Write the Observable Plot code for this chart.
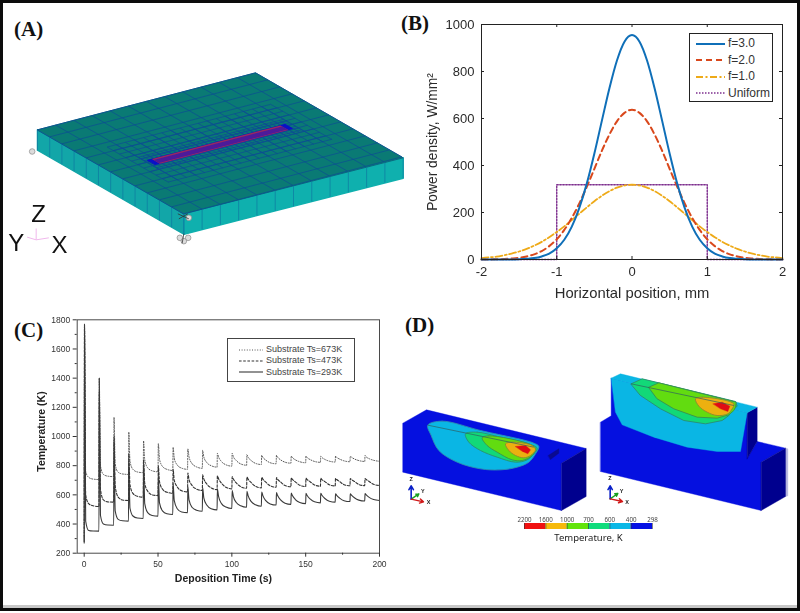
<!DOCTYPE html>
<html>
<head>
<meta charset="utf-8">
<script src="https://cdn.jsdelivr.net/npm/d3@7"></script>
<script src="https://cdn.jsdelivr.net/npm/@observablehq/plot@0.6"></script>
<style>
html,body{margin:0;padding:0;background:#fff;}
#page{position:relative;width:800px;height:613px;overflow:hidden;background:#fff;font-family:"Liberation Sans",Arial,sans-serif;}
#page svg{position:absolute;background:transparent;}
#edge{position:absolute;left:0;top:0;width:794px;height:605px;border:3px solid #0c0c0c;border-bottom-width:3px;box-shadow:inset 0 -3px 0 #c8c8c8;box-sizing:content-box;pointer-events:none;}
.tag{position:absolute;font-family:"Liberation Serif",serif;font-weight:bold;font-size:21px;line-height:24px;color:#111;white-space:nowrap;}
.lg{position:absolute;background:#fff;box-sizing:border-box;}
.row{position:absolute;white-space:nowrap;}
.row svg{position:static !important;vertical-align:middle;}
</style>
</head>
<body>
<div id="page"><div id="edge"></div></div>
<script>
// ---------- Panel B: power density profiles ----------
const positionB = [-2,-1.9,-1.8,-1.7,-1.6,-1.5,-1.4,-1.3,-1.2,-1.1,-1,-0.9,-0.8,-0.7,-0.6,-0.5,-0.4,-0.3,-0.2,-0.1,0,0.1,0.2,0.3,0.4,0.5,0.6,0.7,0.8,0.9,1,1.1,1.2,1.3,1.4,1.5,1.6,1.7,1.8,1.9,2];
const powerF3 = [0,0,0,0,0,1,3,6,13,25,48,84,140,220,324,451,591,729,847,927,955,927,847,729,591,451,324,220,140,84,48,25,13,6,3,1,0,0,0,0,0];
const powerF2 = [0,0,1,2,4,7,13,22,36,57,86,126,177,239,310,386,463,532,588,624,637,624,588,532,463,386,310,239,177,126,86,57,36,22,13,7,4,2,1,0,0];
const powerF1 = [6,9,12,18,25,34,45,59,75,95,117,141,168,195,222,248,271,291,306,315,318,315,306,291,271,248,222,195,168,141,117,95,75,59,45,34,25,18,12,9,6];
const uniformX = [-2,-1,-1,1,1,2];
const uniformY = [0,0,318,318,0,0];
const ticksBx = [-2,-1,0,1,2];
const ticksBy = [0,200,400,600,800,1000];
const legendB = ["f=3.0","f=2.0","f=1.0","Uniform"];

// ---------- Panel C: temperature history ----------
const timeC = [0,0.2,1,3,6,10,10.2,11,13,16,20,20.2,21,23,26,30,30.2,31,33,36,40,40.2,41,43,46,50,50.2,51,53,56,60,60.2,61,63,66,70,70.2,71,73,76,80,80.2,81,83,86,90,90.2,91,93,96,100,100.2,101,103,106,110,110.2,111,113,116,120,120.2,121,123,126,130,130.2,131,133,136,140,140.2,141,143,146,150,150.2,151,153,156,160,160.2,161,163,166,170,170.2,171,173,176,180,180.2,181,183,186,190,190.2,191,193,196,200];
const temp293 = [270,1770,420,356,352, 351,1400,460,400,393, 392,960,490,432,422, 420,820,510,455,441, 438,830,540,478,458, 454,730,545,490,470, 465,680,560,505,483, 478,655,565,515,495, 488,650,580,530,505, 497,640,590,540,516, 506,630,590,548,525, 515,625,595,555,532, 522,620,595,560,538, 530,615,595,565,543, 535,612,595,568,548, 540,610,595,572,552, 545,610,597,575,556, 550,608,597,578,560, 554,608,598,580,564, 558,609,600,583,568, 561];
const temp473 = [280,1750,600,540,525, 520,1310,640,565,552, 550,1000,660,585,565, 561,880,670,610,590, 584,840,680,625,600, 595,800,690,640,618, 611,775,700,655,628, 620,750,705,665,640, 630,738,710,675,648, 636,730,710,680,652, 641,725,708,682,656, 645,722,708,685,659, 648,720,708,687,662, 652,718,706,688,664, 655,716,706,689,666, 657,714,705,690,668, 659,714,705,691,669, 661,712,705,691,670, 662,712,705,692,671, 663,712,705,692,672, 664];
const temp673 = [300,1770,760,720,708, 705,1400,800,740,728, 725,1130,810,755,743, 740,1030,830,775,757, 752,970,840,785,765, 758,950,845,795,775, 767,925,850,805,783, 775,915,860,815,792, 782,905,860,822,800, 790,885,860,828,806, 797,885,862,835,812, 803,875,858,836,816, 808,870,857,838,820, 813,870,858,840,824, 817,865,855,840,827, 820,865,855,842,829, 823,865,856,843,831, 825,865,857,845,833, 827,865,858,846,835, 829,870,860,848,837, 830];
const ticksCx = [0,50,100,150,200];
const minorCx = [25,75,125,175];
const ticksCy = [200,400,600,800,1000,1200,1400,1600,1800];
const minorCy = [300,500,700,900,1100,1300,1500,1700];
const legendC = ["Substrate Ts=673K","Substrate Ts=473K","Substrate Ts=293K"];

// ---------- Panel D: temperature contours ----------
const bandLabels = ["2200","1600","1000","700","600","400","298"];
const bandColors = ["#f01010","#f6b90a","#62e40a","#10dc7c","#0ab8e6","#0510e4"];
const BLUE="#0510e0", NAVY="#00008e", SKY="#0ab6e4", GREEN="#12d878", LIME="#62dc10", ORANGE="#ecb010", RED="#e00c14";
const blockLeft = [
 {fill:BLUE, pts:[[22,338],[93,298],[572,414],[498,458],[498,600],[22,485]]},
 {fill:NAVY, pts:[[498,458],[572,414],[572,558],[498,600]]},
 {fill:"#0a0a90", pts:[[458,435],[490,415],[490,428],[465,447]]},
 {fill:SKY, line:"#2c8fb0", round:true, pts:[[97,344],[140,332],[255,360],[415,398],[430,408],[420,430],[400,455],[365,470],[315,478],[255,475],[185,455],[130,420],[107,375]]},
 {fill:GREEN, line:"#2a8f70", round:true, pts:[[210,370],[245,365],[315,380],[400,400],[425,413],[415,430],[395,448],[360,455],[305,440],[255,420],[220,395]]},
 {fill:LIME, line:"#3a8f50", round:true, pts:[[260,382],[280,376],[405,402],[420,415],[410,435],[380,450],[350,448],[305,425],[275,405]]},
 {fill:ORANGE, line:"#8a8a30", round:true, pts:[[330,400],[350,395],[410,405],[420,418],[405,435],[385,442],[360,435],[340,420]]},
 {fill:RED, pts:[[360,408],[390,405],[405,418],[397,430],[380,422]]}
];
const blockRight = [
 {fill:BLUE, pts:[[615,335],[647,316],[647,203],[1055,307],[1055,443],[1085,393],[1170,413],[1097,455],[1097,600],[615,483]]},
 {fill:"#b4b4dc", pts:[[1170,413],[1177,415],[1177,556],[1170,558]]},
 {fill:NAVY, pts:[[1097,455],[1170,413],[1170,558],[1097,600]]},
 {fill:NAVY, pts:[[1055,307],[1085,290],[1085,393],[1055,445]]},
 {fill:SKY, pts:[[647,203],[675,190],[1085,290],[1055,307]]},
 {fill:SKY, pts:[[647,203],[1055,307],[1035,423],[965,423],[875,410],[775,380],[680,343],[660,305]]},
 {fill:GREEN, line:"#2a8f70", pts:[[707,220],[740,205],[790,217],[1020,273],[1025,287],[1010,300],[1000,315],[980,330],[930,340],[865,330],[795,295],[735,255]]},
 {fill:LIME, line:"#3a8f50", pts:[[760,230],[790,217],[1022,275],[1020,290],[1015,300],[1000,313],[965,323],[905,320],[835,295],[785,265]]},
 {fill:ORANGE, line:"#8a8a30", round:true, pts:[[900,265],[920,260],[1015,280],[1010,295],[997,310],[965,315],[935,305],[910,287]]},
 {fill:RED, pts:[[953,280],[980,275],[1003,287],[997,303],[975,295]]}
];
const sectionLines = [[[97,344],[415,410]],[[707,220],[1015,285]]];
const triads = [
 {o:[47,566],z:[47,526],x:[84,574],y:[70,550],tz:[47,506],ty:[82,543],tx:[99,576]},
 {o:[644,565],z:[644,526],x:[681,573],y:[667,549],tz:[643,504],ty:[678,542],tx:[695,576]}
];

// ---------- Panel A: plate and mesh ----------
const plateA=[111,388], plateB=[765,217], plateC=[1208,472], plateD=[550,640];
const plateThick = 61;
const coarseLines = [0,1,2,3,4,5,6,7,8,9,10,11,12];
const refineZones = [
 {u:[0.125,0.875], v:[0.29,0.71], step:1/24},
 {u:[0.167,0.833], v:[0.44,0.58], step:1/48}
];
const beadSpan = [0.2,0.79];

const page = document.getElementById("page");
function place(el,left,top){el.style.left=left+"px";el.style.top=top+"px";page.appendChild(el);return el;}
function tag(t,left,top){const d=document.createElement("div");d.className="tag";d.textContent=t;place(d,left,top);}
const plain = d=>String(d);

// ---- Panel A
function uv(u,v){return [plateA[0]+u*(plateB[0]-plateA[0])+v*(plateD[0]-plateA[0]), plateA[1]+u*(plateB[1]-plateA[1])+v*(plateD[1]-plateA[1])];}
const low = p=>[p[0],p[1]+plateThick];
const segs=[];
coarseLines.forEach(i=>{segs.push([uv(i/12,0),uv(i/12,1)]);segs.push([uv(0,i/12),uv(1,i/12)]);});
refineZones.forEach(z=>{
  for(let u=z.u[0];u<=z.u[1]+1e-6;u+=z.step)segs.push([uv(u,z.v[0]),uv(u,z.v[1])]);
  for(let v=z.v[0];v<=z.v[1]+1e-6;v+=z.step)segs.push([uv(z.u[0],v),uv(z.u[1],v)]);
});
const frontTicks=[];
coarseLines.forEach(i=>{
  const b=uv(0,i/12);
  const c=[plateD[0]+(plateC[0]-plateD[0])*i/12, plateD[1]+(plateC[1]-plateD[1])*i/12];
  frontTicks.push([b,low(b)]);frontTicks.push([c,low(c)]);
});
const poly=(pts,o)=>Plot.line(pts,{x:d=>d[0],y:d=>d[1],curve:"linear-closed",...o});
const sceneA = Plot.plot({
  width:410,height:300,margin:0,x:{domain:[0,1230],axis:null},y:{domain:[900,0],axis:null},
  marks:[
    poly([plateA,plateD,low(plateD),low(plateA)],{fill:"#12a6a8",stroke:"#12a6a8"}),
    poly([plateD,plateC,low(plateC),low(plateD)],{fill:"#0fb0ae",stroke:"#0fb0ae"}),
    poly([plateA,plateB,plateC,plateD],{fill:"#0a7a74",stroke:"#0a6a80",strokeWidth:1}),
    Plot.link(frontTicks,{x1:d=>d[0][0],y1:d=>d[0][1],x2:d=>d[1][0],y2:d=>d[1][1],stroke:"#0f78a0",strokeWidth:0.7}),
    Plot.link(segs,{x1:d=>d[0][0],y1:d=>d[0][1],x2:d=>d[1][0],y2:d=>d[1][1],stroke:"#0c4a96",strokeWidth:0.7,strokeOpacity:0.95}),
    poly([uv(beadSpan[0]-0.02,0.485),uv(beadSpan[1]+0.02,0.485),uv(beadSpan[1]+0.02,0.535),uv(beadSpan[0]-0.02,0.535)],{fill:"#0a10c8",stroke:"#0a10c8",strokeWidth:1}),
    poly([uv(beadSpan[0],0.483),uv(beadSpan[1],0.483),uv(beadSpan[1],0.538),uv(beadSpan[0],0.538)],{fill:"#9a2a5e"}),
    poly([uv(beadSpan[0],0.495),uv(beadSpan[1],0.495),uv(beadSpan[1],0.532),uv(beadSpan[0],0.532)],{fill:"#4d1a9a"}),
    Plot.dot([[95,453],[538,712],[563,712],[550,722],[565,652]],{x:d=>d[0],y:d=>d[1],r:2.8,fill:"#dcdcdc",stroke:"#8a8a8a",strokeWidth:0.7}),
    Plot.link([[[532,640],[565,655]],[[535,655],[562,640]],[[550,700],[545,728]]],{x1:d=>d[0][0],y1:d=>d[0][1],x2:d=>d[1][0],y2:d=>d[1][1],stroke:"#333",strokeWidth:0.8}),
    Plot.link([[[107,684],[107,718]],[[80,710],[107,718]],[[107,718],[145,712]]],{x1:d=>d[0][0],y1:d=>d[0][1],x2:d=>d[1][0],y2:d=>d[1][1],stroke:"#f0b8ec",strokeWidth:1}),
    Plot.text([["Z",114,642],["Y",47,727],["X",177,733]],{x:d=>d[1],y:d=>d[2],text:d=>d[0],fontSize:24,fill:"#111",fontFamily:"Liberation Sans"})
  ]
});
sceneA.style.filter="blur(0.35px)";
place(sceneA,0,0);

// ---- Panel B
const tbl=(xs,ys)=>xs.map((x,i)=>({x,y:ys[i]}));
const stylesB=[
  {stroke:"#0f6fb8",strokeWidth:2},
  {stroke:"#d9481c",strokeWidth:2,strokeDasharray:"6,4"},
  {stroke:"#eeaa18",strokeWidth:1.8,strokeDasharray:"7,2.5,2,2.5"},
  {stroke:"#7e2f8e",strokeWidth:1.4,strokeDasharray:"1.5,1.5"}
];
const hB=235, hC=233.4;
const chartB = Plot.plot({
  width:400,height:310,marginLeft:81,marginRight:18,marginTop:24,marginBottom:51,
  style:{color:"#2a2a2a",fontFamily:"Liberation Sans",fontSize:"12.5px"},
  x:{domain:[-2,2]},y:{domain:[0,1000]},
  marks:[
    Plot.line(tbl(uniformX,uniformY),{x:"x",y:"y",...stylesB[3]}),
    Plot.line(tbl(positionB,powerF1),{x:"x",y:"y",curve:"monotone-x",...stylesB[2]}),
    Plot.line(tbl(positionB,powerF2),{x:"x",y:"y",curve:"monotone-x",...stylesB[1]}),
    Plot.line(tbl(positionB,powerF3),{x:"x",y:"y",curve:"monotone-x",...stylesB[0]}),
    Plot.frame({stroke:"#222",strokeWidth:1}),
    Plot.tickX(ticksBx,{x:d=>d,insetTop:hB-3,stroke:"#222"}),
    Plot.tickX(ticksBx,{x:d=>d,insetBottom:hB-3,stroke:"#222"}),
    Plot.tickY(ticksBy,{y:d=>d,insetRight:301-3,stroke:"#222"}),
    Plot.tickY(ticksBy,{y:d=>d,insetLeft:301-3,stroke:"#222"}),
    Plot.axisX({ticks:ticksBx,tickFormat:plain,tickSize:0,tickPadding:7,label:"Horizontal position, mm",labelAnchor:"center",labelArrow:"none",labelOffset:38,fontSize:13}),
    Plot.axisY({ticks:ticksBy,tickFormat:plain,tickSize:0,tickPadding:7,label:"Power density, W/mm²",labelAnchor:"center",labelArrow:"none",labelOffset:54,fontSize:13})
  ]
});
d3.select(chartB).selectAll('[aria-label="x-axis label"] text').attr("font-size",14.8);
d3.select(chartB).selectAll('[aria-label="y-axis label"] text').attr("font-size",13.8);
chartB.style.filter="blur(0.3px)";
place(chartB,400,0);

// ---- Panel C
const seriesC=[
  {v:temp673,stroke:"#555",strokeWidth:1,strokeDasharray:"1,1.6"},
  {v:temp473,stroke:"#333",strokeWidth:1.1,strokeDasharray:"2.6,1.6"},
  {v:temp293,stroke:"#3a3a3a",strokeWidth:1.1}
];
const chartC = Plot.plot({
  width:400,height:300,marginLeft:76.7,marginRight:21,marginTop:9.3,marginBottom:57.3,
  style:{color:"#333",fontFamily:"Liberation Sans",fontSize:"8.5px"},
  x:{domain:[-4.74,200]},y:{domain:[200,1800]},
  marks:[
    ...seriesC.map(s=>Plot.line(tbl(timeC,s.v),{x:"x",y:"y",curve:"monotone-x",stroke:s.stroke,strokeWidth:s.strokeWidth,strokeDasharray:s.strokeDasharray})),
    Plot.frame({stroke:"#4a4a4a",strokeWidth:1}),
    Plot.axisX({ticks:ticksCx,tickFormat:plain,tickSize:4,tickPadding:4,label:null}),
    Plot.tickX(minorCx,{x:d=>d,insetTop:hC,insetBottom:-2,stroke:"#333"}),
    Plot.axisY({ticks:ticksCy,tickFormat:plain,tickSize:4,tickPadding:3,label:null}),
    Plot.tickY(minorCy,{y:d=>d,insetRight:302.3,insetLeft:-2,stroke:"#333"}),
    Plot.text(["Deposition Time (s)"],{x:()=>94.3,frameAnchor:"bottom",dy:29,fontWeight:"bold",fontSize:10.5,fill:"#222"}),
    Plot.text(["Temperature (K)"],{y:()=>1034,frameAnchor:"left",textAnchor:"middle",dx:-35.5,rotate:-90,fontWeight:"bold",fontSize:10.5,fill:"#222"})
  ]
});
chartC.style.filter="blur(0.3px)";
place(chartC,0,310);

// ---- Panel D
const contourMarks=list=>list.flatMap(p=>[poly(p.pts,{fill:p.fill,stroke:p.line||p.fill,strokeWidth:p.line?0.9:0.4,curve:p.round?"catmull-rom-closed":"linear-closed"})]);
const axisColor={z:"#0a20c8",x:"#d01818",y:"#18a020"};
const sceneD = Plot.plot({
  width:405,height:260,margin:0,x:{domain:[0,1215],axis:null},y:{domain:[780,0],axis:null},
  marks:[
    ...contourMarks(blockLeft),
    ...contourMarks(blockRight),
    Plot.link(sectionLines,{x1:d=>d[0][0],y1:d=>d[0][1],x2:d=>d[1][0],y2:d=>d[1][1],stroke:"#2f5f60",strokeWidth:0.7}),
    ...triads.flatMap(t=>["y","z","x"].map(k=>Plot.arrow([t],{x1:d=>d.o[0],y1:d=>d.o[1],x2:d=>d[k][0],y2:d=>d[k][1],stroke:axisColor[k],strokeWidth:k==="z"?1.6:1.4,headLength:5}))),
    ...triads.flatMap(t=>[["Z","tz"],["Y","ty"],["X","tx"]].map(([s,k])=>Plot.text([t],{x:d=>d[k][0],y:d=>d[k][1],text:()=>s,fontSize:5.5,fontWeight:"bold",fill:"#222",fontFamily:"Liberation Sans"})))
  ]
});
sceneD.style.filter="blur(0.35px)";
place(sceneD,395,310);

const cellIdx=bandColors.map((c,i)=>i);
const barD = Plot.plot({
  width:170,height:44,marginLeft:21,marginRight:21,marginTop:18,marginBottom:20,
  style:{color:"#444",fontFamily:"Noto Sans",fontSize:"6.2px"},
  x:{domain:[0,6],axis:null},
  marks:[
    Plot.rectX(cellIdx,{x1:d=>d,x2:d=>d+1,fill:d=>bandColors[d]}),
    Plot.ruleX(bandLabels.map((d,i)=>i),{x:d=>d,stroke:"#333",strokeWidth:0.6}),
    Plot.text(bandLabels,{x:(d,i)=>i,frameAnchor:"top",dy:-6,text:d=>d,fontSize:6.2,fill:"#444"}),
    Plot.text(["Temperature, K"],{x:()=>3,frameAnchor:"bottom",dy:11,text:d=>d,fontSize:9.5,fill:"#222"})
  ]
});
barD.style.filter="blur(0.2px)";
place(barD,502.5,505);

// ---- Legends
function swatch(w,s){
  const sv=d3.create("svg").attr("width",w).attr("height",6);
  sv.append("line").attr("x1",0).attr("x2",w).attr("y1",3).attr("y2",3).attr("stroke",s.stroke).attr("stroke-width",s.strokeWidth).attr("stroke-dasharray",s.strokeDasharray||null);
  return sv.node();
}
function legend(box,labels,styles,o){
  const d=document.createElement("div");d.className="lg";
  d.style.cssText=`width:${box[2]}px;height:${box[3]}px;border:${o.border};`;
  labels.forEach((t,i)=>{
    const r=document.createElement("div");r.className="row";
    r.style.cssText=`left:${o.left}px;top:${o.top+i*o.step}px;font-size:${o.font}px;line-height:${o.lh}px;color:${o.color};`;
    r.appendChild(swatch(o.sw,styles[i]));
    const sp=document.createElement("span");sp.textContent=t;sp.style.marginLeft=o.gap+"px";sp.style.verticalAlign="middle";
    r.appendChild(sp);d.appendChild(r);
  });
  place(d,box[0],box[1]);
}
legend([689,33,84,69],legendB,stylesB,{border:"1px solid #222",left:6,top:2,step:16.5,font:12,lh:15,color:"#333",sw:29,gap:3});
legend([227,338,128,44],legendC,seriesC,{border:"1px solid #444",left:11,top:5,step:11.2,font:9,lh:11,color:"#444",sw:24,gap:3});

tag("(A)",14,17);tag("(B)",401,11);tag("(C)",14,318);tag("(D)",405,313);
</script>
</body>
</html>
